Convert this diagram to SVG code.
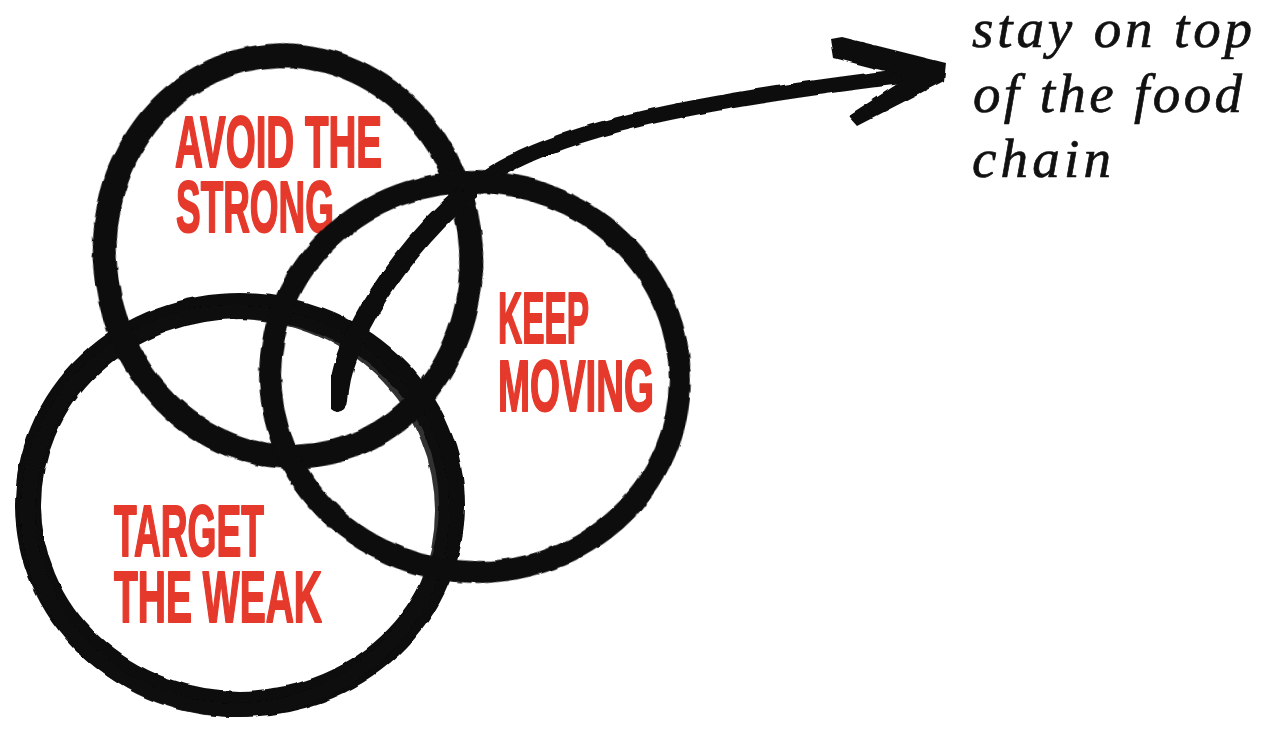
<svg xmlns="http://www.w3.org/2000/svg" width="1268" height="732" viewBox="0 0 1268 732">
  <style>
    .ring { fill: none; stroke: #0d0d0d; }
    .lbl { font-family: "Liberation Sans", Arial, sans-serif; font-weight: bold; font-size: 73px; fill: #e5392b; stroke: #e5392b; stroke-width: 2; stroke-linejoin: round; }
    .goal { font-family: "Liberation Serif", "Times New Roman", serif; font-style: italic; font-size: 55px; fill: #111; stroke: #111; stroke-width: 0.7; }
    .ink { fill: none; stroke: #0d0d0d; stroke-linecap: round; }
  </style>
  <defs>
    <filter id="rough" x="-5%" y="-5%" width="110%" height="110%">
      <feTurbulence type="fractalNoise" baseFrequency="0.05" numOctaves="2" seed="4" result="n"/>
      <feDisplacementMap in="SourceGraphic" in2="n" scale="4" xChannelSelector="R" yChannelSelector="G"/>
    </filter>
  </defs>
  <rect width="1268" height="732" fill="#ffffff"/>

  <g id="node-target">
    <ellipse class="ring" cx="240" cy="505" rx="212" ry="199" stroke-width="26" filter="url(#rough)"/>
    <ellipse class="ring" cx="235" cy="511" rx="207" ry="199" stroke-width="14" stroke-opacity="0.85" filter="url(#rough)"/>
    <text class="lbl"><tspan x="114" y="556" textLength="150" lengthAdjust="spacingAndGlyphs">TARGET</tspan><tspan x="114" y="622" textLength="208" lengthAdjust="spacingAndGlyphs">THE WEAK</tspan></text>
  </g>

  <g id="node-avoid">
    <ellipse class="ring" cx="288" cy="256" rx="183" ry="201" stroke-width="24" transform="rotate(-8 288 256)" filter="url(#rough)"/>
    <text class="lbl"><tspan x="175" y="167" textLength="207" lengthAdjust="spacingAndGlyphs">AVOID THE</tspan><tspan x="176" y="231.5" textLength="158" lengthAdjust="spacingAndGlyphs">STRONG</tspan></text>
  </g>

  <g id="node-keep">
    <ellipse class="ring" cx="475" cy="377" rx="205" ry="195" stroke-width="22" transform="rotate(6 475 377)" filter="url(#rough)"/>
    <text class="lbl"><tspan x="498" y="343" textLength="91" lengthAdjust="spacingAndGlyphs">KEEP</tspan><tspan x="498" y="411" textLength="156" lengthAdjust="spacingAndGlyphs">MOVING</tspan></text>
  </g>

  <g id="connectors">
    <path class="ink" d="M 338 402 C 340 340, 400 250, 470 190" stroke-width="20" filter="url(#rough)"/>
    <path class="ink" d="M 470 190 C 540 130, 700 100, 930 73" stroke-width="15" filter="url(#rough)"/>
    <path d="M 831 39 L 842 37 L 946 63 L 944 81 L 857 126 L 848 116 L 908 77 L 834 58 Z" fill="#0d0d0d" filter="url(#rough)"/>
  </g>

  <g id="node-goal">
    <text class="goal"><tspan x="972" y="47" textLength="280" lengthAdjust="spacing">stay on top</tspan><tspan x="973" y="112" textLength="269" lengthAdjust="spacing">of the food</tspan><tspan x="972" y="177" textLength="139" lengthAdjust="spacing">chain</tspan></text>
  </g>
</svg>
